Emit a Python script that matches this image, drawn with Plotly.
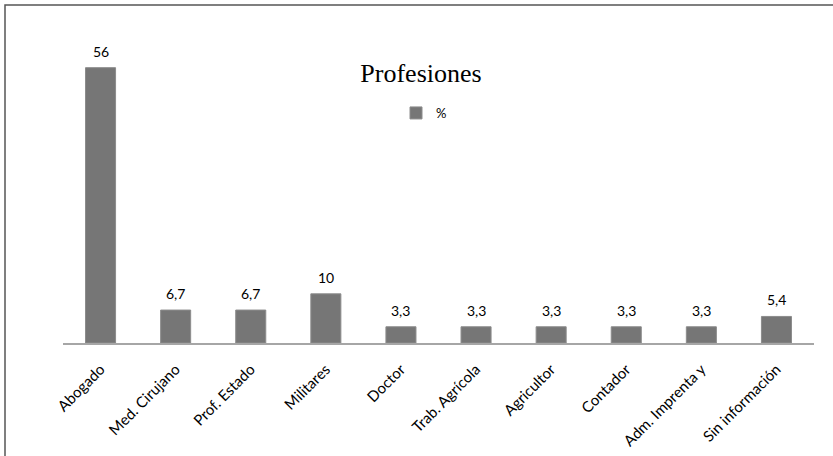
import plotly.graph_objects as go

categories = ["Abogado", "Med. Cirujano", "Prof. Estado", "Militares", "Doctor",
              "Trab. Agrícola", "Agricultor", "Contador", "Adm. Imprenta y", "Sin información"]
values = [56, 6.7, 6.7, 10, 3.3, 3.3, 3.3, 3.3, 3.3, 5.4]
value_labels = ["56", "6,7", "6,7", "10", "3,3", "3,3", "3,3", "3,3", "3,3", "5,4"]
series_name = "%"
title_text = "Profesiones"

L, T, R, B = 63, 48, 19, 113
W, H = 833, 456
pw, ph = W - L - R, H - T - B

def px_x(sx):  # pixel x -> paper x
    return (sx - L) / pw

def px_y(sy):  # pixel y -> paper y
    return (H - B - sy) / ph

fig = go.Figure()
fig.add_trace(go.Bar(
    x=categories, y=values, name=series_name,
    marker=dict(color="#767676", line=dict(color="#8c8c8c", width=1)),
    showlegend=True,
))

annotations = [
    dict(x=c, y=v, xref="x", yref="y", text=t, showarrow=False,
         yanchor="bottom", yshift=6,
         font=dict(family="Lato, sans-serif", size=14, color="#000000"))
    for c, v, t in zip(categories, values, value_labels)
]

fig.update_layout(
    width=W, height=H,
    margin=dict(l=L, r=R, t=T, b=B, autoexpand=False),
    paper_bgcolor="white", plot_bgcolor="white",
    bargap=0.6,
    title=dict(text=title_text, x=421 / W, xanchor="center",
               y=1 - 73 / H, yanchor="middle",
               font=dict(family="Liberation Serif, serif", size=26, color="#000000")),
    legend=dict(x=px_x(396), y=px_y(113), xanchor="left", yanchor="middle",
                font=dict(family="Lato, sans-serif", size=13, color="#000000"),
                bgcolor="rgba(0,0,0,0)", itemwidth=30),
    xaxis=dict(showline=True, linecolor="#a6a6a6", linewidth=1.5, tickangle=-45,
               tickfont=dict(family="Lato, sans-serif", size=15, color="#000000"),
               ticks="", showgrid=False, ticklabelstandoff=10),
    yaxis=dict(range=[0, 60], visible=False, showgrid=False),
    annotations=annotations,
    shapes=[dict(type="rect", xref="paper", yref="paper",
                 x0=px_x(5), x1=1.3, y0=-0.6, y1=px_y(5),
                 line=dict(color="#555555", width=1.5))],
)

fig.write_html("out.html", config={"displayModeBar": False},
               post_script="document.body.style.margin='0';")
